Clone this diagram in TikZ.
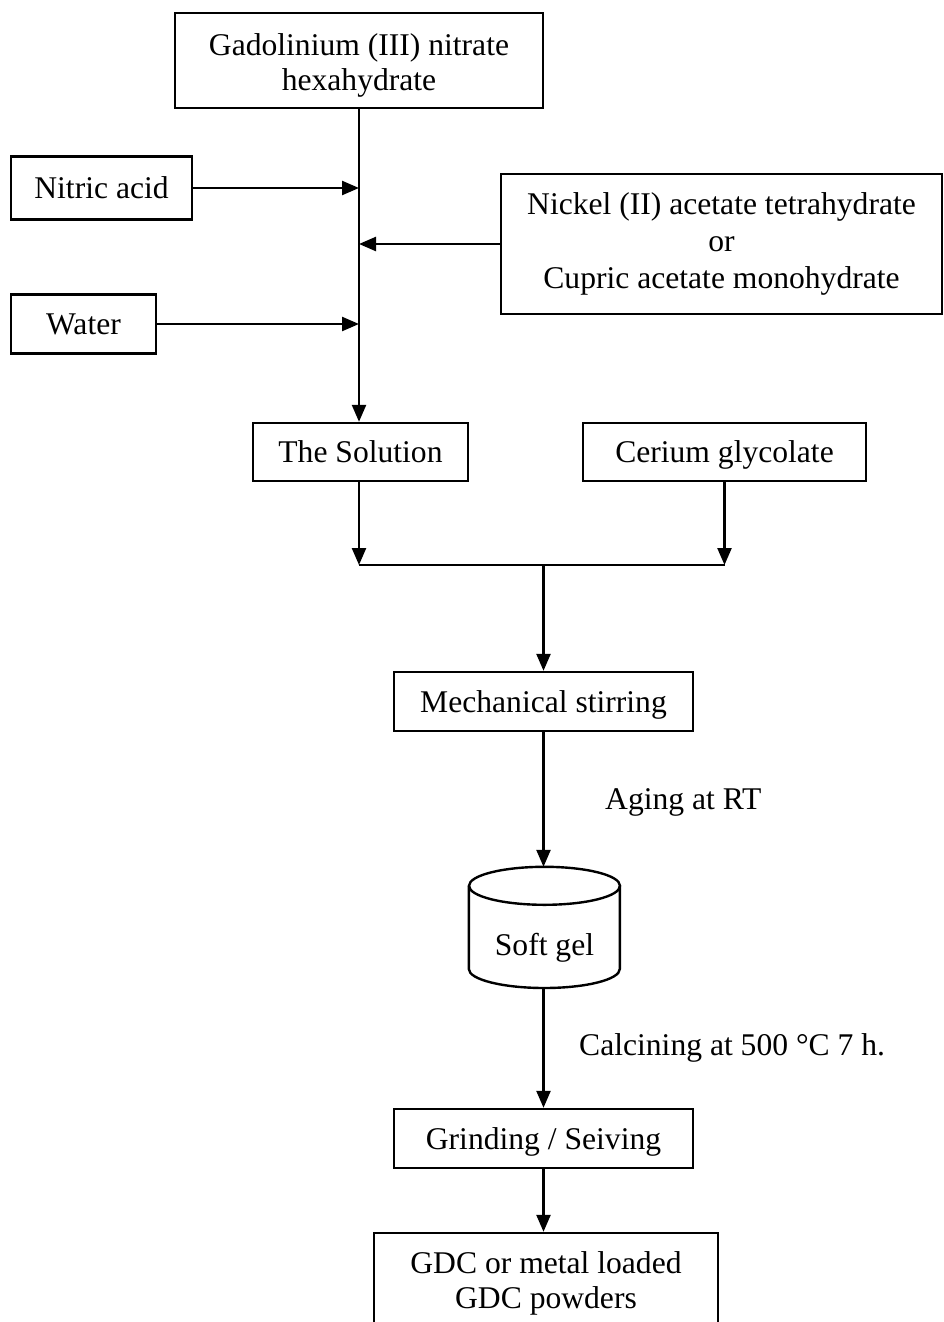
\documentclass[tikz,border=0pt]{standalone}
\usepackage{fontspec}
\setmainfont{Liberation Serif}
\usetikzlibrary{arrows.meta}
\begin{document}
\begin{tikzpicture}[x=1pt,y=-1pt,
  txt/.style={font=\fontsize{31.6}{35}\selectfont},
  box/.style={txt, draw, line width=2.4pt, inner sep=0pt, align=center},
  oneline/.style={text height=21pt, text depth=0pt},
  lbl/.style={txt, inner sep=0pt, anchor=base west},
  flow/.style={line width=2.4pt, -{Triangle[length=17pt,width=14pt]}},
  link/.style={line width=2.4pt}]
\useasboundingbox (0,0) rectangle (943,1322);
\clip (0,0) rectangle (943,1322);
\fill[white] (0,0) rectangle (943,1322);

% nodes
\node[box, minimum width=368pt, minimum height=95pt] (gad) at (359,60.5) {\rule{0pt}{31pt}Gadolinium (III) nitrate\\hexahydrate};
\node[box, oneline, minimum width=181pt, minimum height=63pt] (nitric) at (101.5,188) {Nitric acid};
\node[box, minimum width=441pt, minimum height=140pt, font=\fontsize{31.6}{37}\selectfont] (nick) at (721.5,244) {Nickel (II) acetate tetrahydrate\\or\\Cupric acetate monohydrate};
\node[box, oneline, minimum width=145pt, minimum height=59pt] (water) at (83.5,324) {Water};
\node[box, oneline, minimum width=215pt, minimum height=58pt] (sol) at (360.5,452) {The Solution};
\node[box, oneline, minimum width=283pt, minimum height=58pt] (cer) at (724.5,452) {Cerium glycolate};
\node[box, oneline, minimum width=299pt, minimum height=59pt] (mech) at (543.5,701.5) {Mechanical stirring};
\node[txt, inner sep=0pt, minimum width=151pt, minimum height=121pt] (gel) at (544.5,927.5) {};
\node[txt, inner sep=0pt, anchor=base] (geltxt) at (544.5,955) {Soft gel};
\node[box, oneline, minimum width=299pt, minimum height=59pt] (grind) at (543.5,1138.5) {Grinding / Seiving};
\node[box, minimum width=344pt, minimum height=100pt] (gdc) at (546,1283) {GDC or metal loaded\\GDC powders};

% labels
\node[lbl] (aging) at (605,809) {Aging at RT};
\node[lbl] (calc) at (579,1055) {Calcining at 500 °C 7 h.};

% cylinder (soft gel)
\draw[link] (gel.north) ++(0,19) ellipse [x radius=75.5pt, y radius=19pt];
\draw[link] (gel.west) ++(0,-41.5) -- ++(0,83)
  arc[start angle=180, end angle=360, x radius=75.5pt, y radius=19pt]
  -- ++(0,-83);

% junction coordinates
\coordinate (jl) at (359,565);
\coordinate (jr) at (724.5,565);
\coordinate (jm) at (543.5,565);

% connectors
\draw[flow] (gad.south) -- (gad.south |- sol.north);
\draw[flow] (nitric.east) -- (nitric.east -| gad.south);
\draw[flow] (nick.west) -- (nick.west -| gad.south);
\draw[flow] (water.east) -- (water.east -| gad.south);
\draw[flow] (sol.south -| jl) -- (jl);
\draw[flow] (cer.south) -- (jr);
\draw[link] (jl) -- (jr);
\draw[flow] (jm) -- (mech.north);
\draw[flow] (mech.south) -- (mech.south |- gel.north);
\draw[flow] (gel.south -| grind.north) -- (grind.north);
\draw[flow] (grind.south) -- (grind.south |- gdc.north);
\end{tikzpicture}
\end{document}
